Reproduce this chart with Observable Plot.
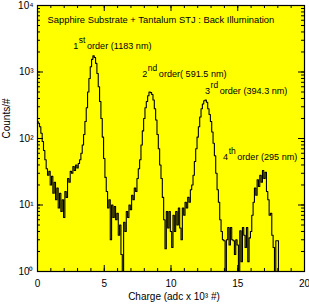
<!DOCTYPE html>
<html><head><meta charset="utf-8">
<script src="https://cdn.jsdelivr.net/npm/d3@7"></script>
<script src="https://cdn.jsdelivr.net/npm/@observablehq/plot@0.6"></script>
<style>body{margin:0;background:#fff}svg{display:block}</style>
</head><body><div id="chart"></div>
<script>
// Charge (adc x 10^3 #), one value per 0.1 bin
const charge = d3.range(0, 182).map(i => +(i * 0.1).toFixed(1));
const counts = [
 180,170,150,120,90,66,48,35,28,32,
 20,27,15,22,12,18,9,15,8,12,
 6.5,16,13,25,22,32,30,38,33,40,
 36,42,48,60,80,115,180,290,500,800,
 1200,1550,1750,1650,1350,950,600,360,200,105,
 50,26,16,9,12,3,10,6.5,9.5,6,
 7.5,3.5,5,1.8,1,5.5,4,8,6.5,10,
 8.5,14,12,18,16,25,35,48,80,130,
 200,290,360,440,500,490,460,380,280,190,
 115,70,40,25,13,6,2.2,8,4.5,8,
 4,2.3,7,4,8,5,9,4.5,3,9,
 7,11,9,13,11,17,20,28,45,70,
 105,150,210,280,330,370,380,350,280,230,
 180,125,85,55,30,17,11,6,4,3,
 2.9,1,3,4.6,2.5,4.6,3,2.9,1.8,3,
 2.5,1,4.1,1.4,4.6,3.5,2.3,4.6,1.4,3.2,
 4,7,11,18,14,24,19,28,22,33,
 25,31,16,12,7,7.5,3.5,2.3,1,2.9,
 2.9,0.5
];
const xTickValues = [0, 5, 10, 15, 20];
const xTickLabels = ["0", "5", "10", "15", "20"];
const yTickValues = [1, 10, 100, 1000, 10000];
const yTickLabels = ["10⁰", "10¹", "10²", "10³", "10⁴"];
const title = "Sapphire Substrate + Tantalum STJ : Back Illumination";
const xLabel = "Charge (adc x 10³ #)";
const yLabel = "Counts/#";
const annNum = ["1", "2", "3", "4"];
const annSup = ["st", "nd", "rd", "th"];
const annRest = ["order (1183 nm)", "order( 591.5 nm)", "order (394.3 nm)", "order (295 nm)"];
const annX = [2.68, 7.85, 12.55, 13.9];
const annY = [2250, 850, 470, 47];

const W = 309, H = 308, mL = 37, mR = 5, mT = 5, mB = 37;
const pw = W - mL - mR, ph = H - mT - mB;
const data = charge.map((c, i) => ({c, n: counts[i]}));
const xMinor = d3.range(0, 21), xMajor = xMinor.filter(d => d % 5 === 0);
const yMinor = [];
for (let k = 0; k < 4; k++) for (let m = 1; m < 10; m++) yMinor.push(m * 10 ** k);
yMinor.push(10000);
const yMajor = yTickValues;
const annIdx = annNum.map((_, i) => i);
const annFull = annIdx.map(i => annNum[i] + annSup[i] + " " + annRest[i]);
const font = "Liberation Sans, Arial, Helvetica, sans-serif";

const chart = Plot.plot({
  width: W, height: H,
  marginLeft: mL, marginRight: mR, marginTop: mT, marginBottom: mB,
  style: {fontFamily: font, background: "#fff", color: "#000"},
  x: {domain: [0, 20]},
  y: {type: "log", domain: [1, 10000]},
  marks: [
    Plot.frame({fill: "#ffff00"}),
    Plot.axisX({ticks: xTickValues, tickFormat: d => xTickLabels[xTickValues.indexOf(d)], tickSize: 0, tickPadding: 8, fontSize: 10, label: null}),
    Plot.axisY({ticks: yTickValues, tickFormat: d => yTickLabels[yTickValues.indexOf(d)], tickSize: 0, tickPadding: 4, fontSize: 10, label: null}),
    Plot.tickY(yMinor, {y: d => d, insetRight: pw - 3, stroke: "#000"}),
    Plot.tickY(yMajor, {y: d => d, insetRight: pw - 6, stroke: "#000"}),
    Plot.tickY(yMinor, {y: d => d, insetLeft: pw - 3, stroke: "#000"}),
    Plot.tickY(yMajor, {y: d => d, insetLeft: pw - 6, stroke: "#000"}),
    Plot.tickX(xMinor, {x: d => d, insetTop: ph - 3, stroke: "#000"}),
    Plot.tickX(xMajor, {x: d => d, insetTop: ph - 6, stroke: "#000"}),
    Plot.tickX(xMinor, {x: d => d, insetBottom: ph - 3, stroke: "#000"}),
    Plot.tickX(xMajor, {x: d => d, insetBottom: ph - 6, stroke: "#000"}),
    Plot.line(data, {x: "c", y: "n", curve: "step", stroke: "#000", strokeWidth: 1.1, clip: true}),
    Plot.frame({stroke: "#000", strokeWidth: 1.2}),
    Plot.text([title], {frameAnchor: "top-left", dx: 10, dy: 11, text: d => d, textAnchor: "start", fontSize: 9.4, fill: "#000"}),
    Plot.text(annIdx, {x: i => annX[i], y: i => annY[i], text: i => annFull[i], textAnchor: "start", lineAnchor: "bottom", fontSize: 9.1, fill: "#000"}),
    Plot.text([xLabel], {frameAnchor: "bottom", dy: 28, dx: 3, text: d => d, fontSize: 10, fill: "#000"}),
    Plot.text([yLabel], {frameAnchor: "left", dx: -31, rotate: -90, text: d => d, fontSize: 10, fill: "#000"})
  ]
});
// superscripts for order labels
d3.select(chart).selectAll("text").each(function() {
  const j = annFull.indexOf(this.textContent);
  if (j < 0) return;
  const t = d3.select(this);
  t.selectAll("*").remove();
  t.text(null);
  t.append("tspan").text(annNum[j]);
  t.append("tspan").attr("dy", -6).attr("dx", 0.5).attr("font-size", 8.5).text(annSup[j]);
  t.append("tspan").attr("dy", 6).attr("dx", 1.5).text(annRest[j]);
});
document.getElementById("chart").appendChild(chart);
</script>
</body></html>
